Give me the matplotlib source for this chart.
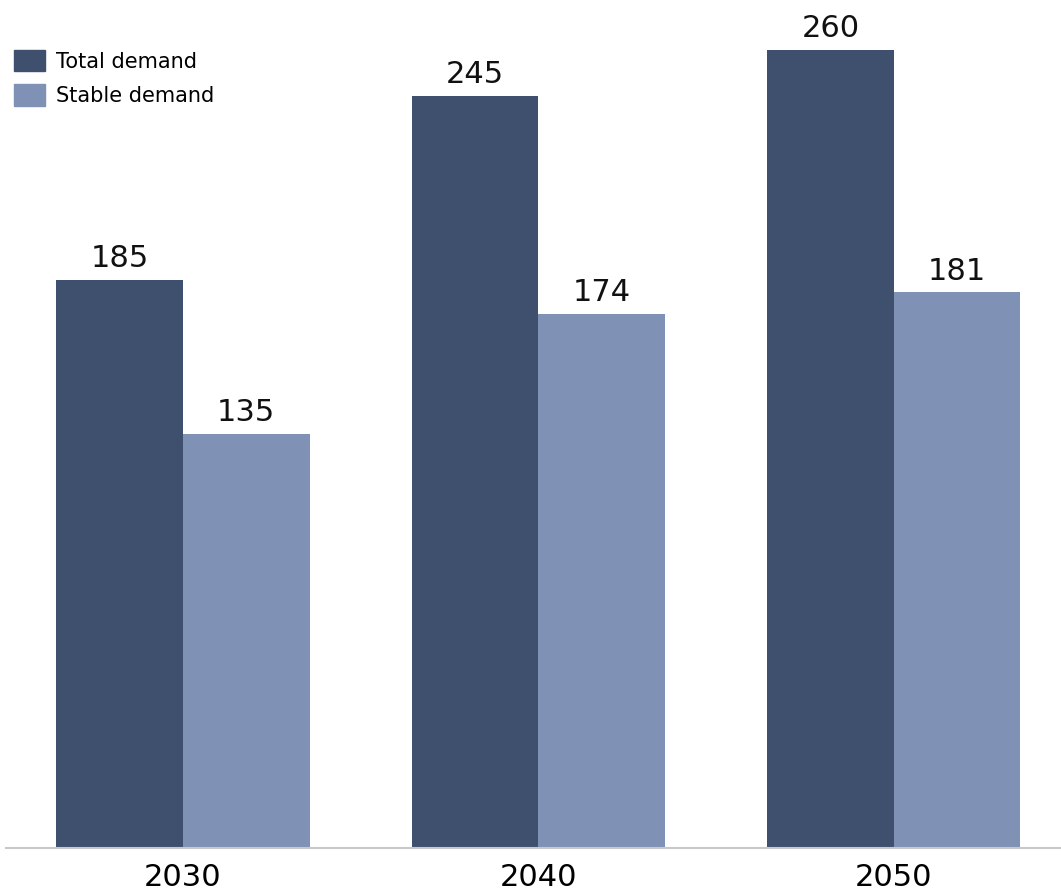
import numpy as np
import matplotlib.pyplot as plt
from matplotlib.patches import Patch

years = ['2030', '2040', '2050']
total_demand = [185, 245, 260]
stable_demand = [135, 174, 181]

dark = '#3f506f'
light = '#7f92b5'

fig = plt.figure(figsize=(10.61, 8.91), dpi=100)
ax = fig.add_axes([6 / 1061, 43 / 891, 1055 / 1061, 848 / 891])

x = np.arange(len(years))
w = 0.356
b1 = ax.bar(x - w / 2, total_demand, w, color=dark)
b2 = ax.bar(x + w / 2, stable_demand, w, color=light)

for bars, vals in [(b1, total_demand), (b2, stable_demand)]:
    for rect, v in zip(bars, vals):
        ax.annotate(str(v), (rect.get_x() + rect.get_width() / 2, v),
                    xytext=(0, 5), textcoords='offset points',
                    ha='center', va='bottom', fontsize=22, color='#111111')

ax.set_xlim(-0.498, 2.47)
ax.set_ylim(0, 276.3)
ax.set_xticks(x)
ax.set_xticklabels(years, fontsize=22)
ax.tick_params(axis='x', length=0, pad=11)
ax.set_yticks([])
for s in ['top', 'right', 'left']:
    ax.spines[s].set_visible(False)
ax.spines['bottom'].set_color('#c8c8c8')
ax.spines['bottom'].set_linewidth(1.5)

handles = [Patch(color=dark, label='Total demand'),
           Patch(color=light, label='Stable demand')]
fig.legend(handles=handles, loc='upper left', bbox_to_anchor=(14 / 1061, 1 - 50 / 891),
           frameon=False, fontsize=15, handlelength=1.5, handleheight=1.2,
           handletextpad=0.5, labelspacing=0.6, borderaxespad=0, borderpad=0)

fig.savefig('out.png', dpi=100)
